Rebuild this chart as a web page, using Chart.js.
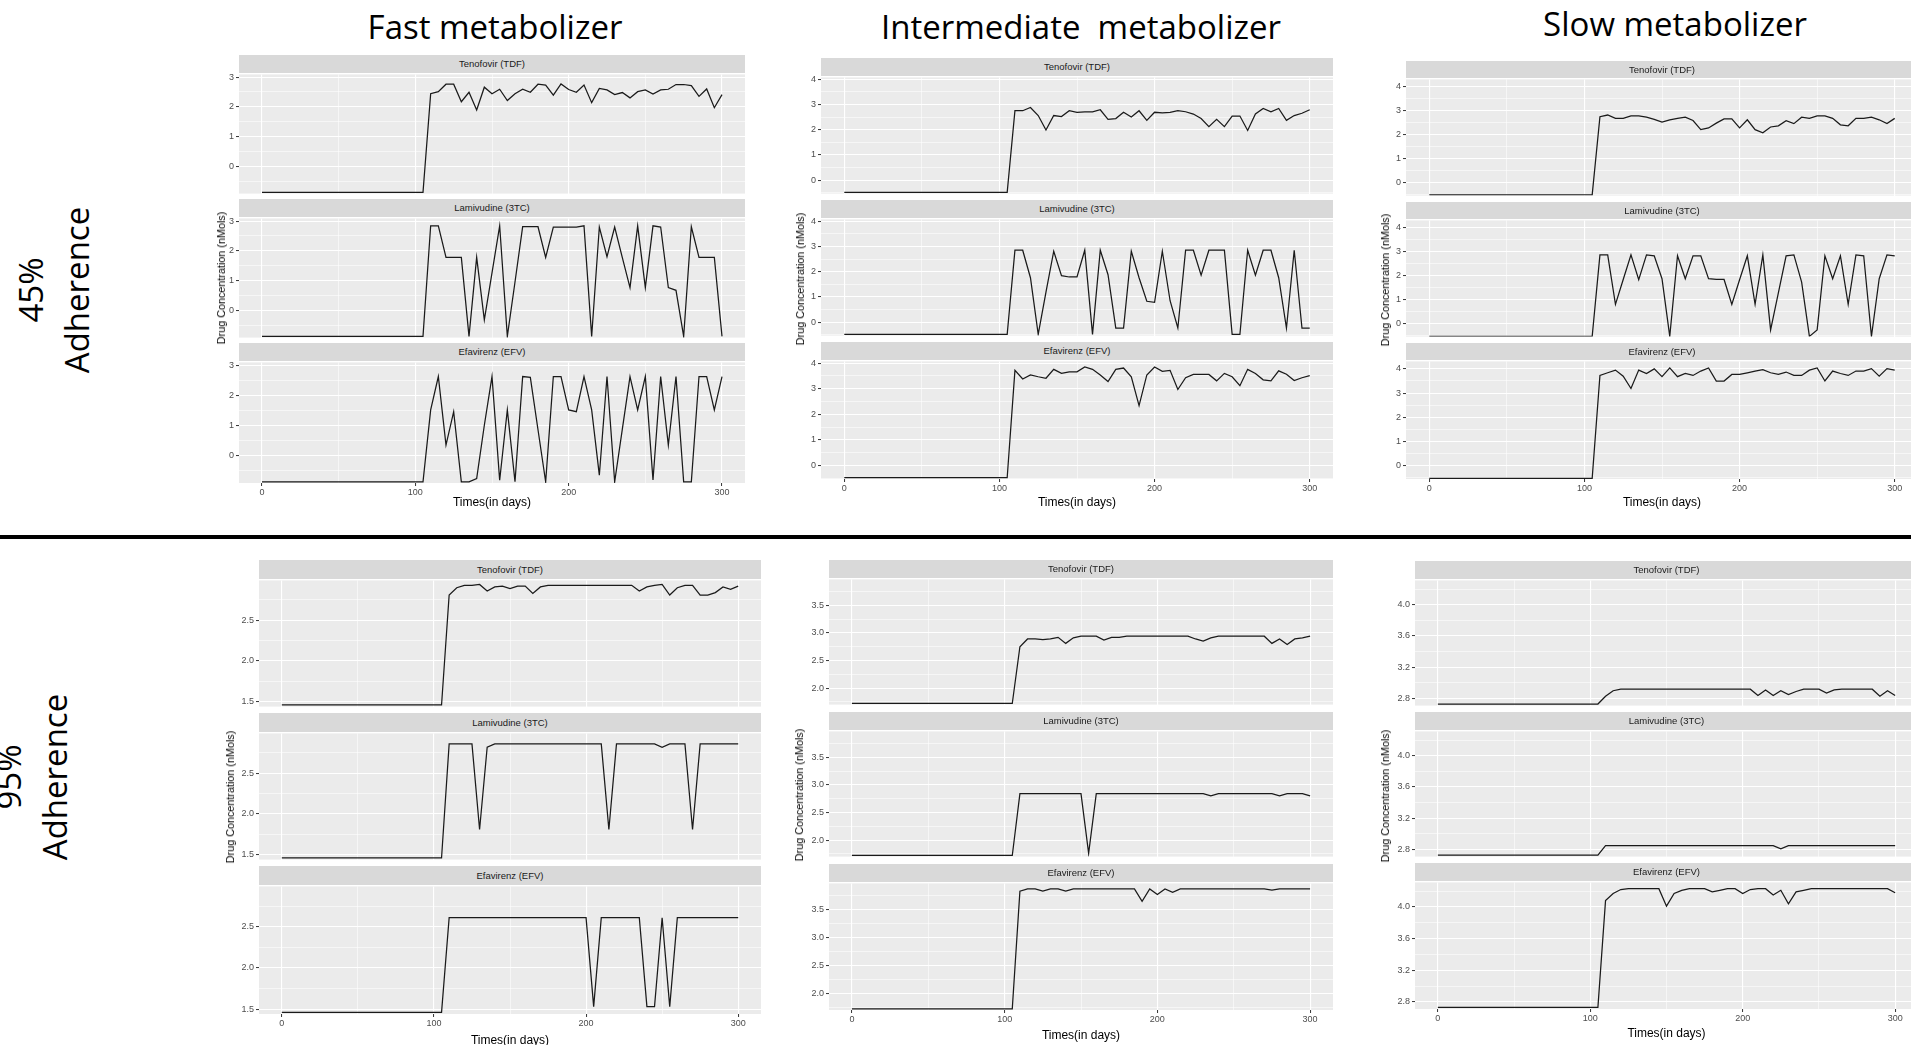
<!DOCTYPE html>
<html lang="en">
<head>
  <meta charset="UTF-8" />
  <title>Drug concentration by adherence and metabolizer</title>
  <script src="https://cdn.jsdelivr.net/npm/chart.js"></script>
  <style>
    body {
      margin: 0;
      width: 1911px;
      height: 1045px;
      overflow: hidden;
      position: relative;
      background: #fff;
      font-family: "Liberation Sans", Arial, sans-serif;
    }
    canvas, .strip, .col-title, .row-label, .ytitle, .xtitle, .rule { position: absolute; }
    .col-title {
      font-family: "Open Sans", sans-serif;
      font-size: 33px;
      line-height: 40px;
      color: #000;
      white-space: pre;
      transform: translateX(-50%);
    }
    .row-label {
      font-family: "Open Sans", sans-serif;
      font-size: 33px;
      line-height: 46px;
      text-align: center;
      white-space: nowrap;
      transform: translate(-50%, -50%) rotate(-90deg);
    }
    .strip {
      background: #d9d9d9;
      color: #1a1a1a;
      font-size: 9.5px;
      text-align: center;
      overflow: hidden;
      z-index: 2;
    }
    .ytitle {
      font-size: 10.8px;
      white-space: nowrap;
      transform: translate(-50%, -50%) rotate(-90deg);
    }
    .xtitle {
      font-size: 12px;
      white-space: nowrap;
      transform: translate(-50%, -50%);
    }
    .rule { left: 0; width: 1911px; height: 4px; background: #000; }
  </style>
</head>
<body>
  <script>
    // jours de simulation
    const DAYS = [0, 105, 110, 115, 120, 125, 130, 135, 140, 145, 150, 155, 160, 165, 170, 175, 180, 185, 190, 195, 200,
      205, 210, 215, 220, 225, 230, 235, 240, 245, 250, 255, 260, 265, 270, 275, 280, 285, 290, 295, 300];
    const DRUGS = ['Tenofovir (TDF)', 'Lamivudine (3TC)', 'Efavirenz (EFV)'];
    const X_TICKS = [0, 50, 100, 150, 200, 250, 300];

    // 45% adherence
    const FAST45_TDF = [-0.88, -0.88, 2.44, 2.51, 2.76, 2.76, 2.17, 2.49, 1.89, 2.66, 2.44, 2.59, 2.21, 2.44, 2.59, 2.49, 2.76, 2.73, 2.39, 2.77, 2.58,
      2.49, 2.73, 2.14, 2.62, 2.57, 2.41, 2.48, 2.30, 2.51, 2.57, 2.43, 2.57, 2.59, 2.75, 2.75, 2.71, 2.35, 2.60, 1.97, 2.41];
    const FAST45_3TC = [-0.88, -0.88, 2.84, 2.84, 1.78, 1.78, 1.78, -0.88, 1.78, -0.32, 1.26, 2.84, -0.88, 0.95, 2.81, 2.81, 2.81, 1.78, 2.80, 2.80, 2.80,
      2.80, 2.84, -0.88, 2.80, 1.80, 2.80, 1.77, 0.76, 2.84, 0.76, 2.84, 2.80, 0.76, 0.67, -0.88, 2.81, 1.78, 1.78, 1.78, -0.88];
    const FAST45_EFV = [-0.88, -0.88, 1.51, 2.62, 0.34, 1.45, -0.88, -0.88, -0.77, 1.00, 2.62, -0.83, 1.51, -0.88, 2.62, 2.59, 0.85, -0.88, 2.62, 2.62, 1.51,
      1.45, 2.62, 1.51, -0.66, 2.62, -0.88, 0.87, 2.62, 1.51, 2.62, -0.82, 2.62, 0.34, 2.62, -0.88, -0.88, 2.62, 2.62, 1.51, 2.62];

    const INT45_TDF = [-0.48, -0.48, 2.75, 2.75, 2.88, 2.56, 1.99, 2.56, 2.52, 2.75, 2.69, 2.71, 2.71, 2.79, 2.41, 2.44, 2.69, 2.50, 2.75, 2.37, 2.69,
      2.67, 2.69, 2.75, 2.71, 2.62, 2.44, 2.12, 2.41, 2.12, 2.54, 2.54, 1.97, 2.62, 2.84, 2.71, 2.84, 2.37, 2.56, 2.65, 2.79];
    const INT45_3TC = [-0.48, -0.48, 2.85, 2.85, 1.76, -0.48, 1.19, 2.81, 1.84, 1.79, 1.79, 2.85, -0.48, 2.85, 1.88, -0.23, -0.23, 2.81, 1.76, 0.83, 0.79,
      2.81, 0.85, -0.23, 2.85, 2.85, 1.86, 2.85, 2.85, 2.85, -0.48, -0.48, 2.85, 1.86, 2.85, 2.85, 1.76, -0.23, 2.85, -0.23, -0.23];
    const INT45_EFV = [-0.48, -0.48, 3.72, 3.38, 3.54, 3.47, 3.41, 3.76, 3.60, 3.66, 3.66, 3.85, 3.76, 3.54, 3.28, 3.76, 3.81, 3.47, 2.34, 3.54, 3.85,
      3.68, 3.72, 2.97, 3.43, 3.56, 3.56, 3.56, 3.31, 3.60, 3.47, 3.12, 3.76, 3.60, 3.35, 3.31, 3.70, 3.57, 3.32, 3.43, 3.51];

    const SLOW45_TDF = [-0.52, -0.52, 2.75, 2.82, 2.68, 2.68, 2.78, 2.78, 2.73, 2.64, 2.52, 2.62, 2.68, 2.73, 2.59, 2.21, 2.28, 2.48, 2.66, 2.66, 2.28,
      2.62, 2.21, 2.08, 2.32, 2.37, 2.58, 2.46, 2.73, 2.68, 2.78, 2.78, 2.68, 2.41, 2.37, 2.68, 2.68, 2.73, 2.62, 2.46, 2.68];
    const SLOW45_3TC = [-0.54, -0.54, 2.87, 2.87, 0.80, 1.84, 2.87, 1.83, 2.87, 2.83, 1.87, -0.54, 2.83, 1.87, 2.83, 2.83, 1.87, 1.84, 1.84, 0.80, 1.83,
      2.83, 0.80, 2.87, -0.27, 1.28, 2.83, 2.87, 1.73, -0.54, -0.27, 2.83, 1.87, 2.83, 0.80, 2.87, 2.83, -0.54, 1.87, 2.87, 2.83];
    const SLOW45_EFV = [-0.52, -0.52, 3.73, 3.84, 3.95, 3.70, 3.19, 3.95, 3.81, 4.00, 3.68, 4.04, 3.68, 3.81, 3.73, 3.91, 4.04, 3.50, 3.50, 3.77, 3.77,
      3.84, 3.91, 3.97, 3.84, 3.77, 3.87, 3.73, 3.73, 3.95, 4.04, 3.50, 3.91, 3.81, 3.73, 3.91, 3.91, 4.01, 3.70, 4.01, 3.95];

    // 95% adherence
    const FAST95_TDF = [1.46, 1.46, 2.81, 2.90, 2.93, 2.93, 2.94, 2.86, 2.91, 2.92, 2.89, 2.92, 2.92, 2.83, 2.91, 2.93, 2.93, 2.93, 2.93, 2.93, 2.93,
      2.93, 2.93, 2.93, 2.93, 2.93, 2.93, 2.86, 2.91, 2.93, 2.94, 2.81, 2.90, 2.93, 2.93, 2.81, 2.81, 2.84, 2.91, 2.88, 2.92];
    const FAST95_3TC = [1.46, 1.46, 2.86, 2.86, 2.86, 2.86, 1.81, 2.82, 2.86, 2.86, 2.86, 2.86, 2.86, 2.86, 2.86, 2.86, 2.86, 2.86, 2.86, 2.86, 2.86,
      2.86, 2.86, 1.81, 2.86, 2.86, 2.86, 2.86, 2.86, 2.86, 2.82, 2.86, 2.86, 2.86, 1.81, 2.86, 2.86, 2.86, 2.86, 2.86, 2.86];
    const FAST95_EFV = [1.46, 1.46, 2.61, 2.61, 2.61, 2.61, 2.61, 2.61, 2.61, 2.61, 2.61, 2.61, 2.61, 2.61, 2.61, 2.61, 2.61, 2.61, 2.61, 2.61, 2.61,
      1.53, 2.61, 2.61, 2.61, 2.61, 2.61, 2.61, 1.53, 1.53, 2.61, 1.53, 2.61, 2.61, 2.61, 2.61, 2.61, 2.61, 2.61, 2.61, 2.61];

    const INT95_TDF = [1.72, 1.72, 2.75, 2.89, 2.89, 2.88, 2.89, 2.92, 2.81, 2.91, 2.94, 2.94, 2.94, 2.87, 2.92, 2.92, 2.94, 2.94, 2.94, 2.94, 2.94,
      2.94, 2.94, 2.94, 2.94, 2.89, 2.85, 2.91, 2.94, 2.94, 2.94, 2.94, 2.94, 2.94, 2.94, 2.81, 2.89, 2.79, 2.89, 2.91, 2.94];
    const INT95_3TC = [1.72, 1.72, 2.84, 2.84, 2.84, 2.84, 2.84, 2.84, 2.84, 2.84, 2.84, 1.76, 2.84, 2.84, 2.84, 2.84, 2.84, 2.84, 2.84, 2.84, 2.84,
      2.84, 2.84, 2.84, 2.84, 2.84, 2.84, 2.80, 2.84, 2.84, 2.84, 2.84, 2.84, 2.84, 2.84, 2.84, 2.80, 2.84, 2.84, 2.84, 2.80];
    const INT95_EFV = [1.72, 1.72, 3.83, 3.87, 3.87, 3.83, 3.87, 3.87, 3.83, 3.87, 3.87, 3.87, 3.87, 3.87, 3.87, 3.87, 3.87, 3.87, 3.65, 3.87, 3.77,
      3.87, 3.81, 3.87, 3.87, 3.87, 3.87, 3.87, 3.87, 3.87, 3.87, 3.87, 3.87, 3.87, 3.87, 3.85, 3.87, 3.87, 3.87, 3.87, 3.87];

    const SLOW95_TDF = [2.73, 2.73, 2.83, 2.90, 2.92, 2.92, 2.92, 2.92, 2.92, 2.92, 2.92, 2.92, 2.92, 2.92, 2.92, 2.92, 2.92, 2.92, 2.92, 2.92, 2.92,
      2.92, 2.84, 2.91, 2.84, 2.90, 2.85, 2.89, 2.92, 2.92, 2.92, 2.87, 2.91, 2.92, 2.92, 2.92, 2.92, 2.92, 2.83, 2.90, 2.84];
    const SLOW95_3TC = [2.73, 2.73, 2.85, 2.85, 2.85, 2.85, 2.85, 2.85, 2.85, 2.85, 2.85, 2.85, 2.85, 2.85, 2.85, 2.85, 2.85, 2.85, 2.85, 2.85, 2.85,
      2.85, 2.85, 2.85, 2.85, 2.81, 2.85, 2.85, 2.85, 2.85, 2.85, 2.85, 2.85, 2.85, 2.85, 2.85, 2.85, 2.85, 2.85, 2.85, 2.85];
    const SLOW95_EFV = [2.73, 2.73, 4.08, 4.17, 4.22, 4.23, 4.23, 4.23, 4.23, 4.23, 4.01, 4.17, 4.21, 4.23, 4.23, 4.23, 4.19, 4.21, 4.23, 4.23, 4.17,
      4.22, 4.23, 4.23, 4.15, 4.21, 4.04, 4.19, 4.21, 4.23, 4.23, 4.23, 4.23, 4.23, 4.23, 4.23, 4.23, 4.23, 4.23, 4.23, 4.18];

    // graduations y
    const TICKS_FAST45 = [0, 1, 2, 3];
    const MINOR_FAST45 = [-0.5, 0.5, 1.5, 2.5];
    const TICKS_4 = [0, 1, 2, 3, 4];
    const MINOR_4 = [-0.5, 0.5, 1.5, 2.5, 3.5];
    const TICKS_FAST95 = [1.5, 2.0, 2.5];
    const MINOR_FAST95 = [1.75, 2.25, 2.75];
    const TICKS_INT95 = [2.0, 2.5, 3.0, 3.5];
    const MINOR_INT95 = [1.75, 2.25, 2.75, 3.25, 3.75];
    const TICKS_SLOW95 = [2.8, 3.2, 3.6, 4.0];
    const MINOR_SLOW95 = [3.0, 3.4, 3.8, 4.2];

    const PANELS = [
      { left: 239, width: 506, top: 55, strip: 18, plot: 122, gap: 4, yMin: -0.92, yMax: 3.09, major: TICKS_FAST45, minor: MINOR_FAST45, digits: 0,
        series: [FAST45_TDF, FAST45_3TC, FAST45_EFV], yTitle: [221, 278], xTitleY: 502 },
      { left: 821, width: 512, top: 58, strip: 18, plot: 119, gap: 5, yMin: -0.53, yMax: 4.07, major: TICKS_4, minor: MINOR_4, digits: 0,
        series: [INT45_TDF, INT45_3TC, INT45_EFV], yTitle: [800, 279], xTitleY: 502 },
      { left: 1406, width: 512, top: 61, strip: 17, plot: 119, gap: 5, yMin: -0.55, yMax: 4.31, major: TICKS_4, minor: MINOR_4, digits: 0,
        series: [SLOW45_TDF, SLOW45_3TC, SLOW45_EFV], yTitle: [1385, 280], xTitleY: 502 },
      { left: 259, width: 502, top: 560, strip: 19, plot: 129, gap: 5, yMin: 1.44, yMax: 2.99, major: TICKS_FAST95, minor: MINOR_FAST95, digits: 1,
        series: [FAST95_TDF, FAST95_3TC, FAST95_EFV], yTitle: [230, 797], xTitleY: 1040 },
      { left: 829, width: 504, top: 560, strip: 18, plot: 128, gap: 6, yMin: 1.70, yMax: 3.97, major: TICKS_INT95, minor: MINOR_INT95, digits: 1,
        series: [INT95_TDF, INT95_3TC, INT95_EFV], yTitle: [799, 795], xTitleY: 1035 },
      { left: 1415, width: 503, top: 561, strip: 18, plot: 128, gap: 5, yMin: 2.71, yMax: 4.31, major: TICKS_SLOW95, minor: MINOR_SLOW95, digits: 1,
        series: [SLOW95_TDF, SLOW95_3TC, SLOW95_EFV], yTitle: [1385, 796], xTitleY: 1033 }
    ];

    const FONT = 'Liberation Sans';
    const PAD = 6;
    const AX_W = 34;

    // fond gris du panneau (theme_grey)
    const panelBg = {
      id: 'panelBg',
      beforeDraw(chart) {
        const a = chart.chartArea;
        const c = chart.ctx;
        c.save();
        c.fillStyle = '#ebebeb';
        c.fillRect(a.left, a.top, a.right - a.left, a.bottom - a.top);
        c.restore();
      }
    };

    function addDiv(cls, text, css) {
      const d = document.createElement('div');
      d.className = cls;
      d.textContent = text;
      Object.assign(d.style, css);
      document.body.appendChild(d);
      return d;
    }

    function drawFacet(p, k) {
      const top = p.top + k * (p.strip + p.plot + p.gap);
      addDiv('strip', DRUGS[k], {
        left: p.left + 'px', top: top + 'px', width: p.width + 'px',
        height: p.strip + 'px', lineHeight: p.strip + 'px'
      });

      const last = k === 2;
      const axH = last ? 16 : 0;
      const cv = document.createElement('canvas');
      cv.width = p.width + AX_W;
      cv.height = p.plot + PAD * 2 + axH;
      cv.style.left = (p.left - AX_W) + 'px';
      cv.style.top = (top + p.strip - PAD) + 'px';
      document.body.appendChild(cv);

      const vals = p.series[k];
      const yTicks = p.major.map(v => ({ value: v, minor: false }))
        .concat(p.minor.map(v => ({ value: v, minor: true })));

      new Chart(cv, {
        type: 'line',
        data: {
          datasets: [{
            data: DAYS.map((d, i) => ({ x: d, y: vals[i] })),
            borderColor: '#1a1a1a',
            borderWidth: 1.25,
            pointRadius: 0,
            tension: 0,
            fill: false
          }]
        },
        options: {
          responsive: false,
          animation: false,
          devicePixelRatio: 1,
          layout: { autoPadding: false, padding: { top: PAD, bottom: PAD, left: 0, right: 0 } },
          plugins: { legend: { display: false }, tooltip: { enabled: false } },
          scales: {
            x: {
              type: 'linear', min: -15, max: 315, bounds: 'data',
              afterBuildTicks: s => { s.ticks = X_TICKS.map(v => ({ value: v, minor: v % 100 !== 0 })); },
              afterFit: s => { s.height = axH; },
              border: { display: false },
              grid: {
                color: '#ffffff',
                lineWidth: c => (c.tick && c.tick.minor ? 0.55 : 1.1),
                drawTicks: last, tickLength: 3, tickWidth: 1,
                tickColor: c => (c.tick && c.tick.minor ? 'rgba(0,0,0,0)' : '#333333')
              },
              ticks: {
                display: last, padding: 1, autoSkip: false, maxRotation: 0,
                color: '#4d4d4d', font: { family: FONT, size: 9 },
                callback: (v, i, t) => (t[i].minor ? '' : String(v))
              }
            },
            y: {
              type: 'linear', min: p.yMin, max: p.yMax, bounds: 'data',
              afterBuildTicks: s => { s.ticks = yTicks.map(t => ({ value: t.value, minor: t.minor })); },
              afterFit: s => { s.width = AX_W; },
              border: { display: false },
              grid: {
                color: '#ffffff',
                lineWidth: c => (c.tick && c.tick.minor ? 0.55 : 1.1),
                drawTicks: true, tickLength: 3, tickWidth: 1,
                tickColor: c => (c.tick && c.tick.minor ? 'rgba(0,0,0,0)' : '#333333')
              },
              ticks: {
                padding: 2, autoSkip: false,
                color: '#4d4d4d', font: { family: FONT, size: 9 },
                callback: (v, i, t) => (t[i].minor ? '' : Number(v).toFixed(p.digits))
              }
            }
          }
        },
        plugins: [panelBg]
      });
    }

    PANELS.forEach(p => {
      for (let k = 0; k < 3; k++) drawFacet(p, k);
      addDiv('ytitle', 'Drug Concentration (nMols)', { left: p.yTitle[0] + 'px', top: p.yTitle[1] + 'px' });
      addDiv('xtitle', 'Times(in days)', { left: (p.left + p.width / 2) + 'px', top: p.xTitleY + 'px' });
    });

    // titres de colonnes et de lignes
    addDiv('col-title', 'Fast metabolizer', { left: '495px', top: '7px' });
    addDiv('col-title', 'Intermediate  metabolizer', { left: '1081px', top: '7px' });
    addDiv('col-title', 'Slow metabolizer', { left: '1675px', top: '4px' });

    const r1 = addDiv('row-label', '', { left: '54px', top: '290px' });
    r1.innerHTML = '45%<br>Adherence';
    const r2 = addDiv('row-label', '', { left: '32px', top: '777px' });
    r2.innerHTML = '95%<br>Adherence';

    addDiv('rule', '', { top: '535px' });
  </script>
</body>
</html>
